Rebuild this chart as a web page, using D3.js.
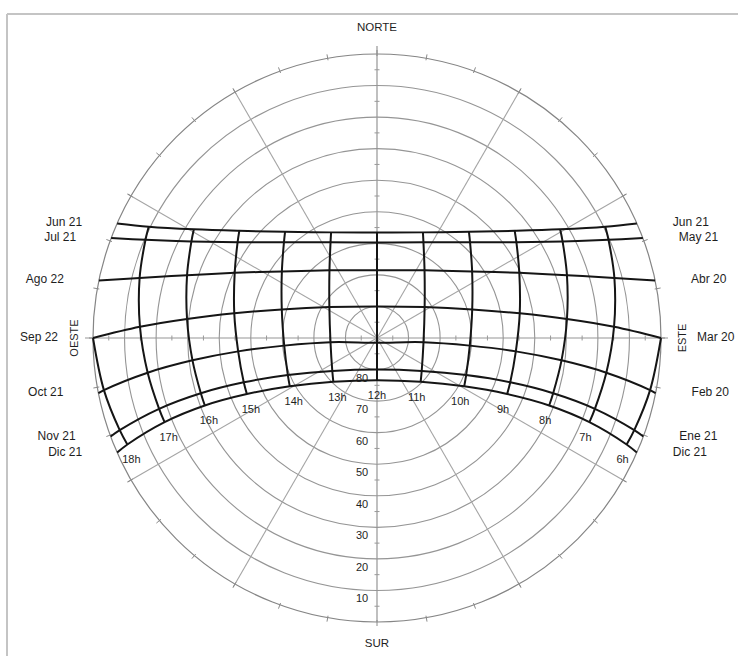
<!DOCTYPE html>
<html>
<head>
<meta charset="utf-8">
<script src="https://cdn.jsdelivr.net/npm/d3@7"></script>
<style>
  html, body { margin: 0; padding: 0; background: #fff; }
  svg { display: block; }
  text { font-family: "Liberation Sans", Arial, sans-serif; fill: #1e1e1e; }
</style>
</head>
<body>
<svg id="chart" width="738" height="656"></svg>
<script>
// ---------------- DATA ----------------
const hourLabels = ["6h","7h","8h","9h","10h","11h","12h","13h","14h","15h","16h","17h","18h"];
const leftDateLabels  = ["Jun 21","Jul 21","Ago 22","Sep 22","Oct 21","Nov 21","Dic 21"];
const rightDateLabels = ["Jun 21","May 21","Abr 20","Mar 20","Feb 20","Ene 21","Dic 21"];
const altitudeRings = [10, 20, 30, 40, 50, 60, 70, 80];
const compass = ["NORTE", "ESTE", "SUR", "OESTE"];

// Solar altitude (deg) at 6h..18h per date line (null = sun below horizon)
const altJun = [null, 9.5, 22.5, 34.7, 45.5, 53.5, 56.6, 53.5, 45.5, 34.7, 22.5, 9.5, null];
const altJul = [null, 10.3, 23.7, 36.4, 47.7, 56.3, 59.7, 56.3, 47.7, 36.4, 23.7, 10.3, null];
const altAgo = [null, 12.4, 26.6, 40.4, 53.2, 63.8, 68.5, 63.8, 53.2, 40.4, 26.6, 12.4, null];
const altSep = [0, 14.8, 29.5, 44.1, 58.5, 72.0, 80.0, 72.0, 58.5, 44.1, 29.5, 14.8, 0];
const altOct = [1.9, 16.5, 31.1, 45.8, 60.5, 75.2, 88.5, 75.2, 60.5, 45.8, 31.1, 16.5, 1.9];
const altNov = [3.4, 17.4, 31.5, 45.5, 59.4, 72.4, 80.0, 72.4, 59.4, 45.5, 31.5, 17.4, 3.4];
const altDic = [4.0, 17.6, 31.4, 45.1, 58.4, 70.4, 76.6, 70.4, 58.4, 45.1, 31.4, 17.6, 4.0];

// Solar azimuth (deg from north, clockwise) at 6h..18h per date line
const azJun = [null, 64.0, 59.3, 52.1, 40.9, 23.5, 0, 336.5, 319.1, 307.9, 300.7, 296.0, null];
const azJul = [null, 67.0, 62.5, 55.5, 44.2, 25.9, 0, 334.1, 315.8, 304.5, 297.5, 293.0, null];
const azAgo = [null, 75.8, 71.7, 65.4, 55.0, 35.1, 0, 324.9, 305.0, 294.6, 288.3, 284.2, null];
const azSep = [90, 87.3, 84.3, 80.2, 73.3, 57.0, 0, 303.0, 286.7, 279.8, 275.7, 272.7, 270];
const azOct = [100.8, 98.6, 96.9, 95.5, 94.7, 95.2, 180, 264.8, 265.3, 264.5, 263.1, 261.4, 259.2];
const azNov = [109.7, 108.0, 107.4, 108.4, 112.6, 126.4, 180, 233.6, 247.4, 251.6, 252.6, 252.0, 250.3];
const azDic = [113.1, 111.6, 111.4, 113.3, 119.0, 135.1, 180, 224.9, 241.0, 246.7, 248.6, 248.4, 246.9];

// Sunrise / sunset azimuths (altitude 0) per date line
const sunriseAz = [66.2, 69.4, 78.3, 90.0, 101.2, 110.3, 113.8];
const sunsetAz  = [293.8, 290.6, 281.7, 270.0, 258.8, 249.7, 246.2];

// ---------------- CHART ----------------
const svg = d3.select("#chart");
const cx = 377, cy = 338, R = 284;
const rScale = d3.scaleLinear().domain([90, 0]).range([0, R]);
const rad = d => d * Math.PI / 180;
function proj(az, alt) {
  const r = rScale(alt), a = rad(az);
  return [cx + r * Math.sin(a), cy - r * Math.cos(a)];
}
function projR(az, r) {
  const a = rad(az);
  return [cx + r * Math.sin(a), cy - r * Math.cos(a)];
}

svg.append("rect").attr("width", 738).attr("height", 656).attr("fill", "#fff");

// frame (top + left)
svg.append("line").attr("x1", 7).attr("y1", 14).attr("x2", 738).attr("y2", 14)
  .attr("stroke", "#c4c4c4").attr("stroke-width", 2);
svg.append("line").attr("x1", 7).attr("y1", 14).attr("x2", 7).attr("y2", 656)
  .attr("stroke", "#c4c4c4").attr("stroke-width", 2);

const grid = svg.append("g");

// altitude rings
grid.selectAll("circle.ring").data(altitudeRings).join("circle")
  .attr("class", "ring")
  .attr("cx", cx).attr("cy", cy).attr("r", d => rScale(d))
  .attr("fill", "none").attr("stroke", "#959595").attr("stroke-width", 1.1);
// horizon
grid.append("circle").attr("cx", cx).attr("cy", cy).attr("r", rScale(0))
  .attr("fill", "none").attr("stroke", "#858585").attr("stroke-width", 1.2);

// radial lines every 30 degrees
const radialAz = d3.range(30, 360, 30).filter(a => a % 90 !== 0);
grid.selectAll("line.radial").data(radialAz).join("line")
  .attr("x1", cx).attr("y1", cy)
  .attr("x2", d => projR(d, R + 4)[0]).attr("y2", d => projR(d, R + 4)[1])
  .attr("stroke", "#a5a5a5").attr("stroke-width", 1.1);

// main axes
grid.append("line").attr("x1", cx).attr("y1", cy - R - 8).attr("x2", cx).attr("y2", cy + R)
  .attr("stroke", "#959595").attr("stroke-width", 1.2);
grid.append("line").attr("x1", cx - R - 8).attr("y1", cy).attr("x2", cx + R + 7).attr("y2", cy)
  .attr("stroke", "#959595").attr("stroke-width", 1.2);

// azimuth ticks on horizon every 10 degrees
grid.selectAll("line.aztick").data(d3.range(0, 360, 10)).join("line")
  .attr("x1", d => projR(d, R - 2)[0]).attr("y1", d => projR(d, R - 2)[1])
  .attr("x2", d => projR(d, R + 4)[0]).attr("y2", d => projR(d, R + 4)[1])
  .attr("stroke", "#8a8a8a").attr("stroke-width", 1);

// small ticks along axes every 10 degrees (mid-ring)
const axisTickAlt = d3.range(5, 90, 10);
[0, 90, 180, 270].forEach(az => {
  grid.selectAll(null).data(axisTickAlt).join("line")
    .each(function (alt) {
      const [x, y] = proj(az, alt);
      const a = rad(az);
      const px = Math.cos(a) * 2.5, py = Math.sin(a) * 2.5;
      d3.select(this).attr("x1", x - px).attr("y1", y - py).attr("x2", x + px).attr("y2", y + py);
    })
    .attr("stroke", "#999").attr("stroke-width", 1);
});

// altitude labels
svg.selectAll("text.altlab").data(altitudeRings).join("text")
  .attr("x", cx - 15).attr("y", d => cy + rScale(d) + 8)
  .attr("text-anchor", "middle").attr("dominant-baseline", "central")
  .attr("font-size", 11).text(d => d);

// ---------------- SUN PATHS ----------------
const alts = [altJun, altJul, altAgo, altSep, altOct, altNov, altDic];
const azs  = [azJun, azJul, azAgo, azSep, azOct, azNov, azDic];
const curve = d3.line().curve(d3.curveCatmullRom.alpha(0.5));
const paths = svg.append("g").attr("fill", "none").attr("stroke", "#151515")
  .attr("stroke-width", 2).attr("stroke-linejoin", "round");

// date lines
alts.forEach((alt, i) => {
  const pts = [proj(sunriseAz[i], 0)];
  alt.forEach((a, j) => { if (a !== null && a > 0) pts.push(proj(azs[i][j], a)); });
  pts.push(proj(sunsetAz[i], 0));
  paths.append("path").attr("d", curve(pts));
});

// hour lines
hourLabels.forEach((h, j) => {
  const pts = [];
  alts.forEach((alt, i) => { if (alt[j] !== null && alt[j] >= 0) pts.push(proj(azs[i][j], alt[j])); });
  if (pts.length > 1) paths.append("path").attr("d", curve(pts));
});

// hour labels below the December line
svg.selectAll("text.hour").data(hourLabels).join("text")
  .each(function (h, j) {
    const [x, y] = proj(azDic[j], altDic[j]);
    const dx = j < 6 ? -4 : (j > 6 ? 4 : 0);
    d3.select(this).attr("x", x + dx).attr("y", y + 15);
  })
  .attr("text-anchor", "middle").attr("dominant-baseline", "central")
  .attr("font-size", 11).text(d => d);

// date labels
svg.selectAll("text.ldate").data(leftDateLabels).join("text")
  .each(function (d, i) {
    const [x, y] = proj(sunsetAz[i], 0);
    d3.select(this).attr("x", x - 35).attr("y", y - 1);
  })
  .attr("text-anchor", "end").attr("dominant-baseline", "central")
  .attr("font-size", 12).text(d => d);
svg.selectAll("text.rdate").data(rightDateLabels).join("text")
  .each(function (d, i) {
    const [x, y] = proj(sunriseAz[i], 0);
    d3.select(this).attr("x", x + 36).attr("y", y - 1);
  })
  .attr("text-anchor", "start").attr("dominant-baseline", "central")
  .attr("font-size", 12).text(d => d);

// compass labels
const [nx, ny] = projR(0, R + 27);
svg.append("text").attr("x", nx).attr("y", ny).attr("text-anchor", "middle")
  .attr("dominant-baseline", "central").attr("font-size", 11.5).text(compass[0]);
const [sx, sy] = projR(180, R + 21);
svg.append("text").attr("x", sx).attr("y", sy).attr("text-anchor", "middle")
  .attr("dominant-baseline", "central").attr("font-size", 11.5).text(compass[2]);
const [ex, ey] = projR(90, R + 21);
svg.append("text").attr("transform", `translate(${ex},${ey}) rotate(-90)`)
  .attr("text-anchor", "middle").attr("dominant-baseline", "central")
  .attr("font-size", 11).text(compass[1]);
const [wx, wy] = projR(270, R + 19);
svg.append("text").attr("transform", `translate(${wx},${wy}) rotate(-90)`)
  .attr("text-anchor", "middle").attr("dominant-baseline", "central")
  .attr("font-size", 11).text(compass[3]);
</script>
</body>
</html>
